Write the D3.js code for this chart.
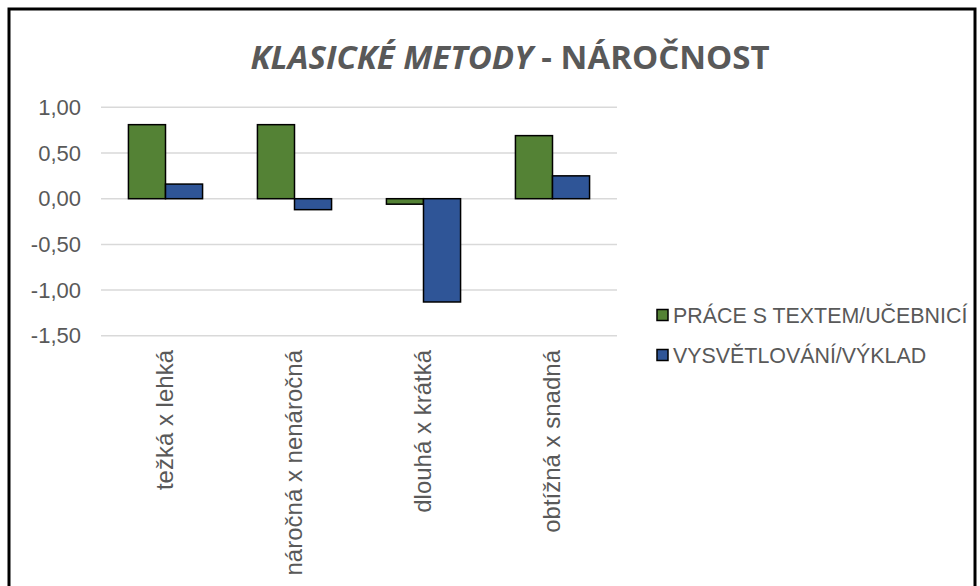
<!DOCTYPE html>
<html>
<head>
  <meta charset="utf-8">
  <script src="https://d3js.org/d3.v7.min.js"></script>
  <style>
    body { margin: 0; background: white; }
    svg { display: block; font-family: "Liberation Sans", Arial, sans-serif; }
  </style>
</head>
<body>
<svg width="980" height="586"></svg>
<script>
  // data
  const categories = ["težká x lehká", "náročná x nenáročná", "dlouhá x krátká", "obtížná x snadná"];
  const seriesNames = ["PRÁCE S TEXTEM/UČEBNICÍ", "VYSVĚTLOVÁNÍ/VÝKLAD"];
  const praceValues = [0.81, 0.81, -0.06, 0.69];
  const vykladValues = [0.16, -0.12, -1.13, 0.25];
  const yTicks = [1, 0.5, 0, -0.5, -1, -1.5];
  const colors = ["#548235", "#2f5597"];

  const rows = categories.map((c, i) => ({ cat: c, vals: [praceValues[i], vykladValues[i]] }));

  const svg = d3.select("svg");
  const textColor = "#595959";

  // chart border
  svg.append("rect")
    .attr("x", 9).attr("y", 9)
    .attr("width", 966).attr("height", 600)
    .attr("fill", "white")
    .attr("stroke", "black")
    .attr("stroke-width", 3);

  // title
  const title = svg.append("text")
    .attr("x", 510).attr("y", 69)
    .attr("text-anchor", "middle")
    .attr("fill", textColor)
    .style("font-family", "'Open Sans', sans-serif")
    .style("font-weight", "bold")
    .style("font-size", "33px");
  title.append("tspan").style("font-style", "italic").text("KLASICKÉ METODY");
  title.append("tspan").text(" - NÁROČNOST");

  // scales
  const x0 = d3.scaleBand().domain(categories).range([101, 617]).padding(0);
  const x1 = d3.scaleBand().domain([0, 1]).range([0, x0.bandwidth()]).paddingInner(0).paddingOuter(0.74);
  const y = d3.scaleLinear().domain([-1.5, 1]).range([335.8, 107.3]);

  // gridlines
  svg.append("g").selectAll("line")
    .data(yTicks)
    .join("line")
    .attr("x1", 101).attr("x2", 617)
    .attr("y1", d => y(d)).attr("y2", d => y(d))
    .attr("stroke", "#d9d9d9")
    .attr("stroke-width", 1.5);

  // y axis labels
  const fmt = d => d3.format(".2f")(d).replace(".", ",").replace("−", "-");
  const yAxis = svg.append("g")
    .attr("transform", "translate(81,0)")
    .call(d3.axisLeft(y).tickValues(yTicks).tickFormat(fmt).tickSize(0).tickPadding(0));
  yAxis.select(".domain").remove();
  yAxis.selectAll("text")
    .attr("fill", textColor)
    .style("font-size", "22px")
    .style("font-family", "'Liberation Sans', Arial, sans-serif");

  // bars
  const groups = svg.append("g").selectAll("g")
    .data(rows)
    .join("g")
    .attr("transform", d => `translate(${x0(d.cat)},0)`);

  groups.selectAll("rect")
    .data(d => d.vals.map((v, i) => ({ v, i })))
    .join("rect")
    .attr("x", d => x1(d.i))
    .attr("width", x1.bandwidth())
    .attr("y", d => y(Math.max(0, d.v)))
    .attr("height", d => Math.abs(y(d.v) - y(0)))
    .attr("fill", d => colors[d.i])
    .attr("stroke", "black")
    .attr("stroke-width", 1.5);

  // category labels (rotated)
  svg.append("g").selectAll("text")
    .data(categories)
    .join("text")
    .attr("transform", d => `translate(${x0(d) + x0.bandwidth() / 2 + 7},350) rotate(-90)`)
    .attr("text-anchor", "end")
    .attr("fill", textColor)
    .style("font-size", "24px")
    .text(d => d);

  // legend
  const legend = svg.append("g").selectAll("g")
    .data(seriesNames)
    .join("g")
    .attr("transform", (d, i) => `translate(657,${315 + i * 40})`);
  legend.append("rect")
    .attr("x", 0).attr("y", -5.5)
    .attr("width", 11).attr("height", 11)
    .attr("fill", (d, i) => colors[i])
    .attr("stroke", "black")
    .attr("stroke-width", 1.5);
  legend.append("text")
    .attr("x", 16).attr("y", 7.5)
    .attr("fill", textColor)
    .style("font-size", "21.4px")
    .text(d => d);
</script>
</body>
</html>
